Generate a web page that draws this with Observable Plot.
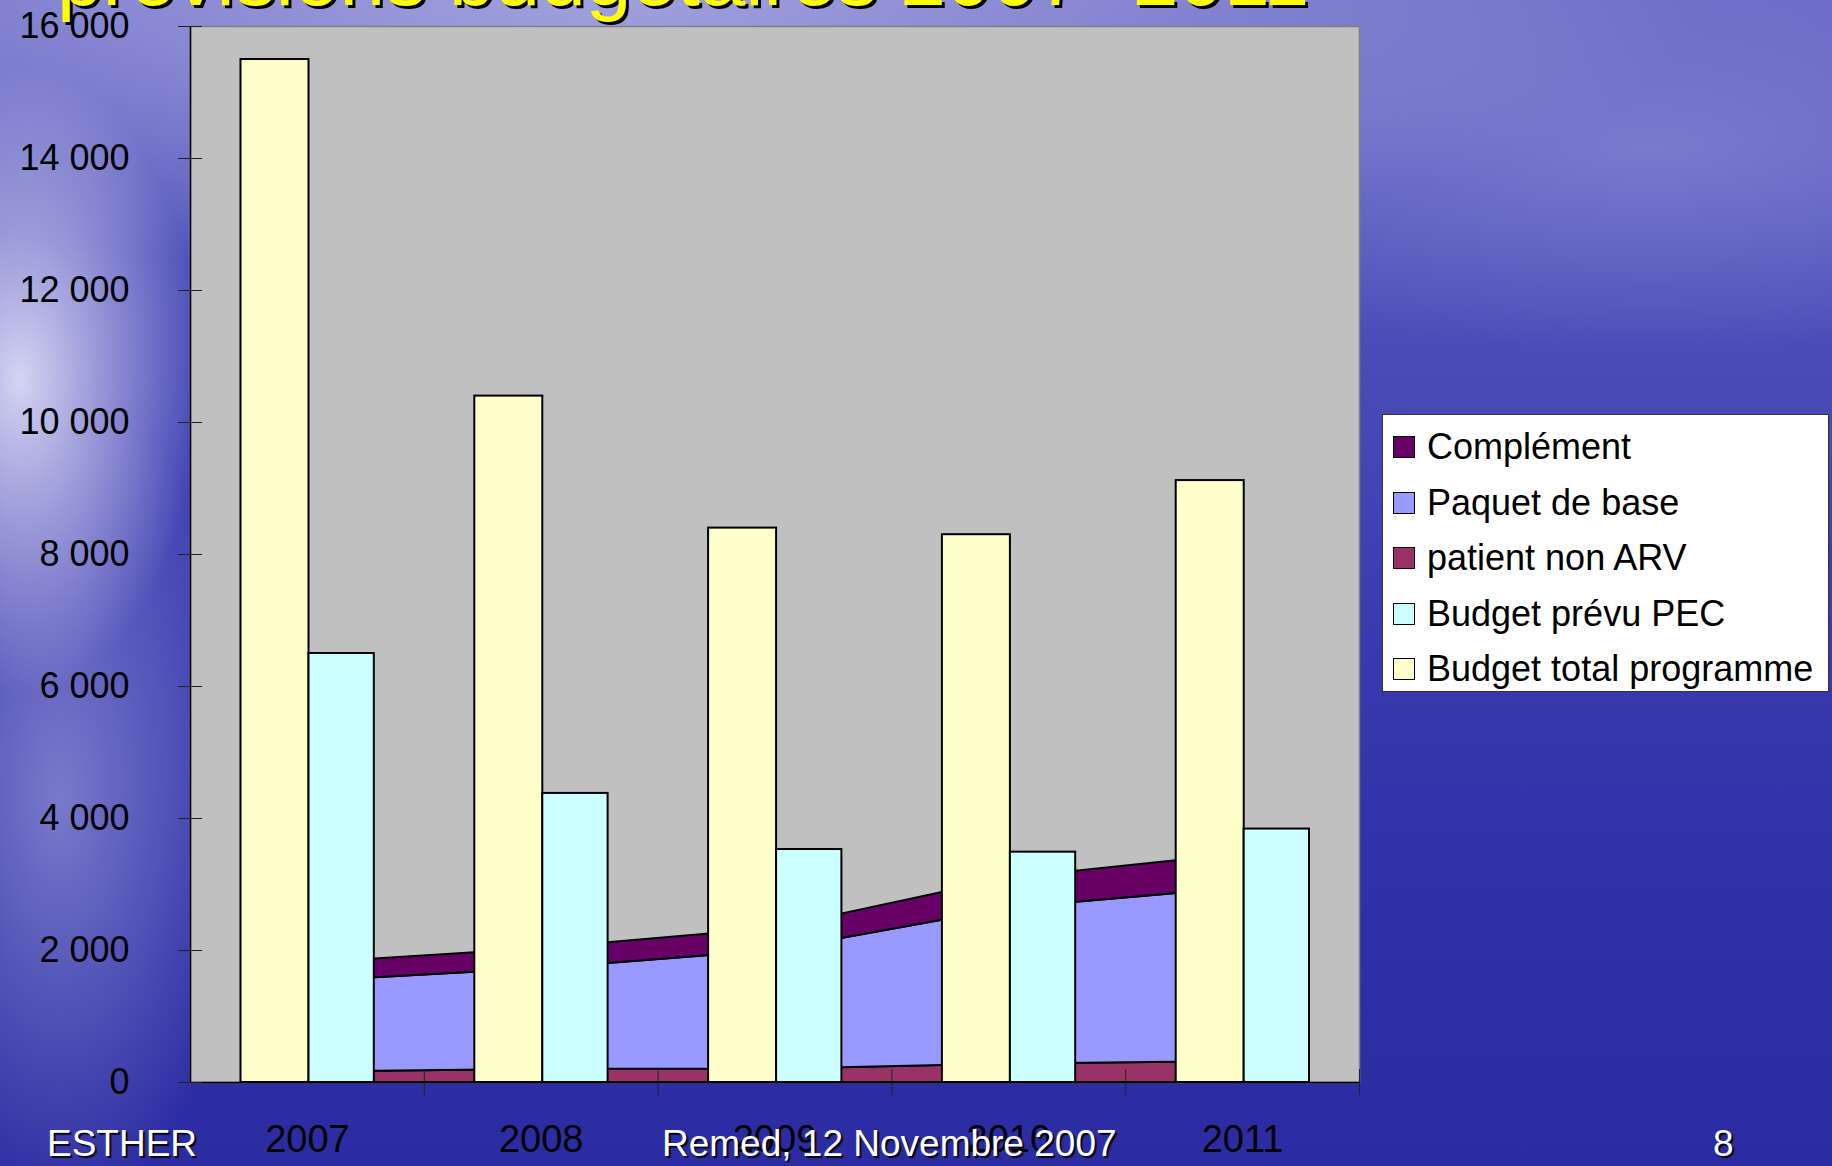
<!DOCTYPE html>
<html>
<head>
<meta charset="utf-8">
<script src="https://cdn.jsdelivr.net/npm/d3@7"></script>
<script src="https://cdn.jsdelivr.net/npm/@observablehq/plot@0.6"></script>
<style>
  html, body { margin: 0; padding: 0; overflow: hidden; }
  #stage {
    position: relative; width: 1832px; height: 1166px; overflow: hidden;
    font-family: "Liberation Sans", Arial, sans-serif;
    background:
      radial-gradient(ellipse 240px 420px at 20px 380px, rgba(236,236,252,0.85), rgba(236,236,252,0) 75%),
      radial-gradient(ellipse 240px 520px at 60px 800px, rgba(190,190,236,0.5), rgba(190,190,236,0) 80%),
      radial-gradient(ellipse 1100px 280px at 600px 0px, rgba(170,170,226,0.85), rgba(170,170,226,0) 100%),
      radial-gradient(ellipse 600px 200px at 1650px 150px, rgba(140,140,215,0.6), rgba(140,140,215,0) 100%),
      linear-gradient(to bottom, #6a6ac6 0%, #4c4cb8 30%, #3a3aae 55%, #2f2fa6 80%, #2c2ca2 100%);
  }
  #title {
    position: absolute; left: 57px; top: -64px; white-space: nowrap;
    font-size: 82px; line-height: 82px; color: #FFFF00;
    text-shadow: 3px 3px 0 #000;
  }
  #chart { position: absolute; left: 0; top: 0; }
  .foot {
    position: absolute; top: 1124px; font-size: 37px; line-height: 40px; color: #fff;
    text-shadow: 2px 2px 1px rgba(0,0,0,0.85); white-space: nowrap;
  }
  #legend {
    position: absolute; left: 1382px; top: 414px; width: 445px; height: 276px;
    background: #fff; border: 1px solid #333;
  }
  .row { position: absolute; left: 10px; height: 40px; display: flex; align-items: center; font-size: 36px; color: #000; white-space: nowrap; }
  .sw { width: 20px; height: 20px; border: 1.5px solid #000; margin-right: 12px; }
</style>
</head>
<body>
<div id="stage">
  <div id="chart"></div>
  <div id="title">prévisions budgétaires 2007- 2011</div>
  <div id="legend"></div>
  <div class="foot" style="left:47px">ESTHER</div>
  <div class="foot" style="left:662px">Remed, 12 Novembre 2007</div>
  <div class="foot" style="left:1713px">8</div>
</div>
<script>
// ---- data ----
const years = ["2007", "2008", "2009", "2010", "2011"];
const budgetTotalProgramme = [15500, 10400, 8400, 8300, 9120];
const budgetPrevuPEC = [6500, 4380, 3530, 3490, 3840];
const patientNonARV = [160, 200, 200, 280, 320];
const paquetDeBase = [1370, 1525, 1800, 2360, 2630];
const complement = [275, 305, 335, 455, 515];
const yTicks = [0, 2000, 4000, 6000, 8000, 10000, 12000, 14000, 16000];

const legendItems = ["Complément", "Paquet de base", "patient non ARV", "Budget prévu PEC", "Budget total programme"];
const legendColors = ["#660066", "#9999FF", "#993366", "#CCFFFF", "#FFFFCC"];
const stackOrder = ["patient non ARV", "Paquet de base", "Complément"];

// ---- tables ----
const barRows = years.map((y, i) => ({year: y, total: budgetTotalProgramme[i], pec: budgetPrevuPEC[i]}));
const areaRows = [];
years.forEach((y, i) => {
  areaRows.push({year: y, series: "patient non ARV", value: patientNonARV[i]});
  areaRows.push({year: y, series: "Paquet de base", value: paquetDeBase[i]});
  areaRows.push({year: y, series: "Complément", value: complement[i]});
});

// ---- layout ----
const W = 1832, H = 1166, mL = 190, mR = 473, mT = 26, mB = 84;
const plotW = W - mL - mR, plotH = H - mT - mB;
const step = plotW / years.length;

const fmt = d => d3.format(",")(d).replace(/,/g, " ");

const chart = Plot.plot({
  width: W, height: H,
  marginLeft: mL, marginRight: mR, marginTop: mT, marginBottom: mB,
  style: {background: "transparent", fontFamily: "Liberation Sans, Arial, sans-serif", fontSize: "36px", color: "#000"},
  x: {type: "band", domain: years, paddingInner: 0, paddingOuter: 0, round: false, axis: null, label: null},
  y: {domain: [0, 16000], axis: null, label: null},
  color: {domain: legendItems, range: legendColors},
  marks: [
    Plot.frame({fill: "#C0C0C0", stroke: "#808080", strokeWidth: 1.5}),
    Plot.areaY(areaRows, {x: "year", y: "value", z: "series", fill: "series", order: stackOrder, stroke: "#000", strokeWidth: 2}),
    Plot.barY(barRows, {x: "year", y: "total", fill: "#FFFFCC", stroke: "#000", strokeWidth: 2, insetLeft: 50.5, insetRight: step - 118.5}),
    Plot.barY(barRows, {x: "year", y: "pec", fill: "#CCFFFF", stroke: "#000", strokeWidth: 2, insetLeft: 118.5, insetRight: 50}),
    Plot.ruleY([0], {stroke: "#000", strokeWidth: 1.5}),
    Plot.ruleX([years[0]], {dx: -step / 2, stroke: "#000", strokeWidth: 1.5}),
    Plot.ruleY(yTicks, {stroke: "#222", strokeWidth: 1, insetLeft: -12, insetRight: plotW - 12}),
    Plot.ruleX(years, {dx: step / 2, stroke: "#222", strokeWidth: 1, insetTop: plotH - 13, insetBottom: -13}),
    Plot.axisY({ticks: yTicks, tickSize: 0, tickPadding: 61, tickFormat: fmt, fontSize: 36, fill: "#000", label: null}),
    Plot.axisX({tickSize: 0, tickPadding: 43, fontSize: 38, fill: "#000", label: null})
  ]
});
document.getElementById("chart").appendChild(chart);

// ---- legend ----
const leg = document.getElementById("legend");
legendItems.forEach((name, i) => {
  const row = document.createElement("div");
  row.className = "row";
  row.style.top = (12 + i * 55.5) + "px";
  const sw = document.createElement("div");
  sw.className = "sw";
  sw.style.background = legendColors[i];
  const t = document.createElement("span");
  t.textContent = name;
  row.appendChild(sw); row.appendChild(t);
  leg.appendChild(row);
});
</script>
</body>
</html>
